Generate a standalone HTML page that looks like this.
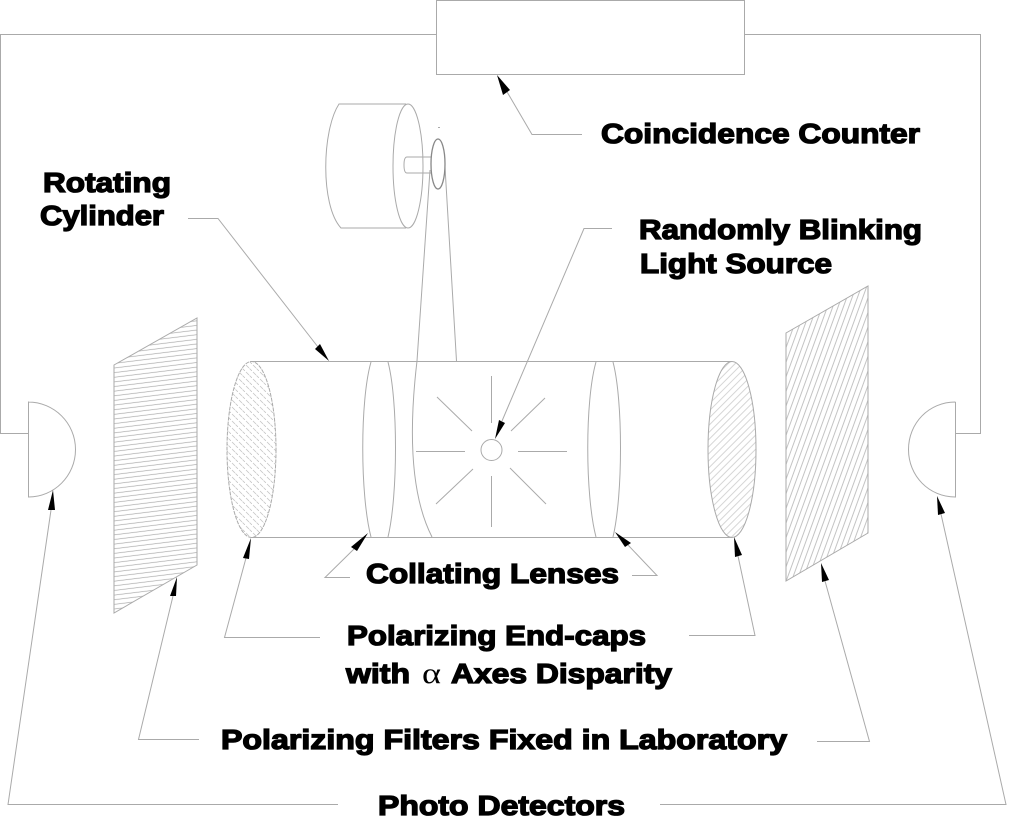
<!DOCTYPE html>
<html><head><meta charset="utf-8"><style>
html,body{margin:0;padding:0;background:#fff}
svg{display:block}
.l{fill:none;stroke:#aaa;stroke-width:1}
.h{fill:#000;stroke:none}
text.t{font-family:"Liberation Sans",sans-serif;font-weight:bold;font-size:27.500px;fill:#000;stroke:#000;stroke-width:1.300}
</style></head><body>
<svg width="1009" height="817" viewBox="0 0 1009 817" xmlns="http://www.w3.org/2000/svg">
<defs>
<pattern id="pf1" width="12" height="4.6" patternUnits="userSpaceOnUse" patternTransform="rotate(-7)"><line x1="0" y1="2" x2="12" y2="2" stroke="#aaa" stroke-width=".7"/></pattern>
<pattern id="pf2" width="5" height="12" patternUnits="userSpaceOnUse" patternTransform="rotate(20)"><line x1="2.500" y1="0" x2="2.500" y2="12" stroke="#aaa" stroke-width=".7"/></pattern>
<pattern id="pe1" width="7" height="7" patternUnits="userSpaceOnUse"><line x1="1" y1="1" x2="4" y2="4" stroke="#c4c4c4" stroke-width=".8"/><line x1="4.500" y1="4.500" x2="7" y2="7" stroke="#c4c4c4" stroke-width=".8"/></pattern>
<pattern id="pe2" width="10" height="5" patternUnits="userSpaceOnUse" patternTransform="rotate(-45)"><line x1="0" y1="2" x2="10" y2="2" stroke="#c4c4c4" stroke-width=".7"/></pattern>
</defs>
<rect width="1009" height="817" fill="#fff"/>
<rect class="l" x="436.500" y="0.500" width="308" height="74"/>
<path class="l" d="M436 34.500H0.500V433.500H28M745 34.500H980.500V433.500H955"/>
<path class="l" d="M28 402H28.500V497C54 497 75.500 476 75.500 449.500C75.500 423 54 402 28 402"/>
<path class="l" d="M955.500 402V497C929 497 908.500 476 908.500 449.500C908.500 423 929 402 955.500 402"/>
<polygon points="114,365 197,318 197,565 114,613" fill="url(#pf1)" stroke="#aaa" stroke-width="1"/>
<polygon points="786,333 868,286 868,533 786,581" fill="url(#pf2)" stroke="#aaa" stroke-width="1"/>
<path class="l" d="M251 361.500H732M251 537.500H732"/>
<ellipse cx="251.500" cy="449.500" rx="24.500" ry="88" fill="url(#pe1)" stroke="#aaa" stroke-dasharray="4 1"/>
<ellipse cx="732" cy="449.500" rx="24" ry="88" fill="url(#pe2)" stroke="#aaa"/>
<path class="l" d="M371 362C360 400 360 495 371 537M388 362C398 400 398 495 388 537"/>
<path class="l" d="M596 362C585 400 585 495 596 537M613 362C623 400 623 495 613 537"/>
<path class="l" d="M430 170L417 361C410 420 408 490 432 537M445 167L456.500 361"/>
<circle class="l" cx="491.500" cy="450" r="10.500"/>
<path class="l" d="M491.500 376V423M491.500 476V527M416 451.500H465M518 451.500H567M511 431L545 398M510 468L546 504M437 397L472 431M436 504L473 469"/>
<path class="l" d="M406 104H339C322 130 320 205 341 228H406"/>
<ellipse class="l" cx="408" cy="166" rx="15" ry="62"/>
<path class="l" d="M432 157H407Q404 157 404 165Q404 173 407 173H432"/>
<ellipse cx="438" cy="164" rx="7" ry="25" fill="#fff" stroke="#888" stroke-width="1.300"/>
<path class="l" d="M438 127.500H440"/>
<path class="l" d="M582 134.500H532L503 85"/>
<path class="l" d="M612 228.500H584L502 421"/>
<path class="l" d="M188 218.500H218L318 347"/>
<path class="l" d="M350 577.500H325L354 549"/>
<path class="l" d="M632 575.500H657L628 545"/>
<path class="l" d="M320 637.500H224.500L246 558"/>
<path class="l" d="M689 635.500H755L738 556"/>
<path class="l" d="M199 739.500H138.500L173 596"/>
<path class="l" d="M817 741.500H869.500L825 581"/>
<path class="l" d="M338 804.500H8L51 510"/>
<path class="l" d="M660 804.500H1006L941 514"/>
<polygon class="h" points="497,75 503,95 510,90"/>
<polygon class="h" points="495,439 499,420 505,423"/>
<polygon class="h" points="329,361 315,349 320,344"/>
<polygon class="h" points="368,533 351,547 357,551"/>
<polygon class="h" points="615,532 631,543 625,547"/>
<polygon class="h" points="251,538 243,558 249,559"/>
<polygon class="h" points="734,537 735,557 742,555"/>
<polygon class="h" points="177,577 170,596 176,596"/>
<polygon class="h" points="821,563 822,582 829,580"/>
<polygon class="h" points="53,490 48,510 55,510"/>
<polygon class="h" points="937,496 938,515 945,513"/>
<text class="t" x="43" y="192" textLength="128" lengthAdjust="spacingAndGlyphs">Rotating</text>
<text class="t" x="40" y="225" textLength="124" lengthAdjust="spacingAndGlyphs">Cylinder</text>
<text class="t" x="601" y="143" textLength="319" lengthAdjust="spacingAndGlyphs">Coincidence Counter</text>
<text class="t" x="639" y="239" textLength="283" lengthAdjust="spacingAndGlyphs">Randomly Blinking</text>
<text class="t" x="640" y="273" textLength="192" lengthAdjust="spacingAndGlyphs">Light Source</text>
<text class="t" x="366" y="583" textLength="253" lengthAdjust="spacingAndGlyphs">Collating Lenses</text>
<text class="t" x="347" y="645" textLength="299" lengthAdjust="spacingAndGlyphs">Polarizing End-caps</text>
<text class="t" x="346" y="683" textLength="64" lengthAdjust="spacingAndGlyphs">with</text>
<text x="422" y="683" font-family="'Liberation Serif',serif" font-size="30" fill="#000" textLength="19" lengthAdjust="spacingAndGlyphs">α</text>
<text class="t" x="451" y="683" textLength="221" lengthAdjust="spacingAndGlyphs">Axes Disparity</text>
<text class="t" x="221" y="749" textLength="566" lengthAdjust="spacingAndGlyphs">Polarizing Filters Fixed in Laboratory</text>
<text class="t" x="378" y="815" textLength="247" lengthAdjust="spacingAndGlyphs">Photo Detectors</text>
</svg>
</body></html>
